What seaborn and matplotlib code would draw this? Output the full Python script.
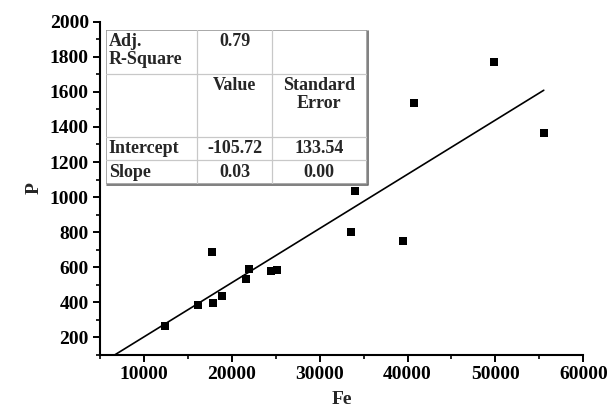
import numpy as np
import pandas as pd
import matplotlib
matplotlib.use("Agg")
import matplotlib.pyplot as plt
from matplotlib.ticker import MultipleLocator
import seaborn as sns

# ---- data ----
fe = [12400, 16100, 17900, 18900, 17700, 21600, 21900, 24500, 25100,
      33600, 34000, 39500, 40700, 49800, 55500]
p = [267, 387, 395, 434, 686, 531, 591, 577, 585,
     804, 1037, 751, 1534, 1771, 1368]
intercept = -105.72
slope = 0.0309

table_rows = ["Adj.\nR-Square", "", "Intercept", "Slope"]
table_value = ["0.79", "Value", "-105.72", "0.03"]
table_se = ["", "Standard\nError", "133.54", "0.00"]

x_ticks = [10000, 20000, 30000, 40000, 50000, 60000]
y_ticks = [200, 400, 600, 800, 1000, 1200, 1400, 1600, 1800, 2000]

sns.set_theme(style="ticks")
plt.rcParams["font.family"] = ["Liberation Serif", "DejaVu Serif"]
plt.rcParams["font.weight"] = "bold"

W, H = 616, 415
fig = plt.figure(figsize=(W / 100, H / 100), dpi=100)
fig.patch.set_facecolor("white")

def fx(px):
    return px / W

def fy(py):
    return 1 - py / H

ax = fig.add_axes([fx(100), fy(355), fx(583.3) - fx(100), fy(21.7) - fy(355)])
ax.set_facecolor("white")

df = pd.DataFrame({"Fe": fe, "P": p})
sns.scatterplot(data=df, x="Fe", y="P", marker="s", s=40, color="black",
                edgecolor="black", linewidth=0, ax=ax, zorder=3)

fit_x = np.array([5000, max(fe)])
fit = pd.DataFrame({"Fe": fit_x, "P": intercept + slope * fit_x})
sns.lineplot(data=fit, x="Fe", y="P", color="black", linewidth=1.2, ax=ax)

ax.set_xlim(5000, 60000)
ax.set_ylim(100, 2000)
ax.set_xticks(x_ticks)
ax.set_yticks(y_ticks)
ax.xaxis.set_minor_locator(MultipleLocator(5000))
ax.yaxis.set_minor_locator(MultipleLocator(100))
ax.tick_params(axis="both", which="major", direction="out", length=5,
               width=1.4, labelsize=14, color="black", labelcolor="black", pad=3)
ax.tick_params(axis="both", which="minor", direction="out", length=3,
               width=1.2, color="black")
for lab in ax.get_xticklabels() + ax.get_yticklabels():
    lab.set_fontweight("bold")

for s in ["top", "right"]:
    ax.spines[s].set_visible(False)
for s in ["left", "bottom"]:
    ax.spines[s].set_linewidth(1.5)
    ax.spines[s].set_color("black")

ax.set_xlabel("Fe", fontsize=14, fontweight="bold", labelpad=6)
ax.set_ylabel("P", fontsize=14, fontweight="bold", labelpad=5)

# ---- statistics table ----
L, R, T, B = 105.7, 366.7, 30, 184
tab = fig.add_axes([fx(L), fy(B), fx(R) - fx(L), fy(T) - fy(B)])
tab.set_xlim(L, R)
tab.set_ylim(B, T)
tab.axis("off")
tab.add_patch(plt.Rectangle((L, T), R - L, B - T, facecolor="white",
                            edgecolor="#9a9a9a", linewidth=1.2, zorder=1))
row_y = [74, 136.7, 160]
col_x = [197.3, 271.7]
for yy in row_y:
    tab.plot([L, R], [yy, yy], color="#c8c8c8", linewidth=0.9, zorder=2)
for xx in col_x:
    tab.plot([xx, xx], [T, B], color="#c8c8c8", linewidth=0.9, zorder=2)
tab.plot([L + 1.5, R + 1.2, R + 1.2], [B + 1.2, B + 1.2, T + 1.5],
         color="#6a6a6a", linewidth=1.2, zorder=2, clip_on=False)

row_tops = [T, 74, 136.7, 160]
row_bot = [74, 136.7, 160, B]
c1 = (col_x[0] + col_x[1]) / 2
c2 = (col_x[1] + R) / 2
fs = 13
for i in range(4):
    if i < 2:
        yy, va = row_tops[i] + 3, "top"
    else:
        yy, va = (row_tops[i] + row_bot[i]) / 2 + 0.5, "center"
    tab.text(L + 3, yy, table_rows[i], ha="left", va=va, fontsize=fs,
             fontweight="bold", linespacing=1.1, zorder=3)
    tab.text(c1, yy, table_value[i], ha="center", va=va, fontsize=fs,
             fontweight="bold", linespacing=1.1, zorder=3)
    tab.text(c2, yy, table_se[i], ha="center", va=va, fontsize=fs,
             fontweight="bold", linespacing=1.1, zorder=3)

fig.savefig("out.png", dpi=100, facecolor="white")
